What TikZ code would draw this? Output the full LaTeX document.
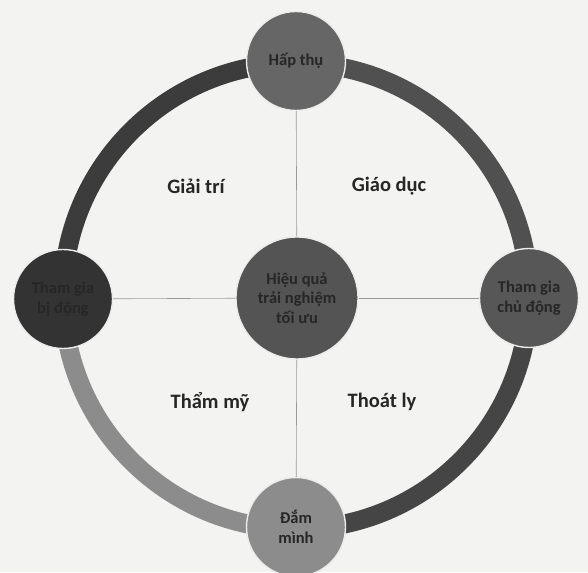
\documentclass[tikz,border=0pt]{standalone}
\usepackage{fontspec}
\setmainfont{Carlito}
\usetikzlibrary{calc}
\definecolor{paper}{HTML}{F3F3F1}
\definecolor{ringA}{HTML}{3C3C3C}
\definecolor{ringB}{HTML}{505050}
\definecolor{ringC}{HTML}{454545}
\definecolor{ringD}{HTML}{8C8C8C}
\definecolor{ink}{HTML}{262626}
\tikzset{
  bubble/.style={circle, draw=white!85!gray, line width=1.4pt, minimum size=99pt, inner sep=0pt,
    align=center, text=ink, font=\fontsize{16.5}{19.5}\selectfont\bfseries},
  quad/.style={text=ink, font=\fontsize{20.5}{24}\selectfont\bfseries},
  cross/.style={draw=gray!80, line width=0.6pt},
  ring/.style={line width=19pt}
}
\begin{document}
\begin{tikzpicture}[x=1pt,y=1pt]
\fill[paper] (0,0) rectangle (588,572);
\useasboundingbox (0,0) rectangle (588,572);
\coordinate (C) at (296,276);
% ring
\draw[ring, ringB] ($(C)+(0:233)$) arc (0:90:233);
\draw[ring, ringA] ($(C)+(90:233)$) arc (90:180:233);
\draw[ring, ringD] ($(C)+(180:233)$) arc (180:270:233);
\draw[ring, ringC] ($(C)+(270:233)$) arc (270:360:233);
% nodes
\node[bubble, fill=black!60] (top) at (296,511) {Hấp thụ};
\node[bubble, fill=black!80] (left) at (63,273) {Tham gia\\bị động};
\node[bubble, fill=black!66] (right) at (529,274) {Tham gia\\chủ động};
\node[bubble, fill=black!45] (bot) at (296,45) {Đắm\\mình};
\node[bubble, fill=black!67, minimum size=122pt] (ctr) at (297,274) {Hiệu quả\\trải nghiệm\\tối ưu};
% cross
\draw[cross] (top) -- (ctr);
\draw[cross] (ctr) -- (bot);
\draw[cross] (left) -- (ctr);
\draw[cross] (ctr) -- (right);
% quadrant labels
\node[quad] (q1) at (196,386) {Giải trí};
\node[quad] (q2) at (389,386) {Giáo dục};
\node[quad] (q3) at (210,170) {Thẩm mỹ};
\node[quad] (q4) at (382,170) {Thoát ly};
\end{tikzpicture}
\end{document}
